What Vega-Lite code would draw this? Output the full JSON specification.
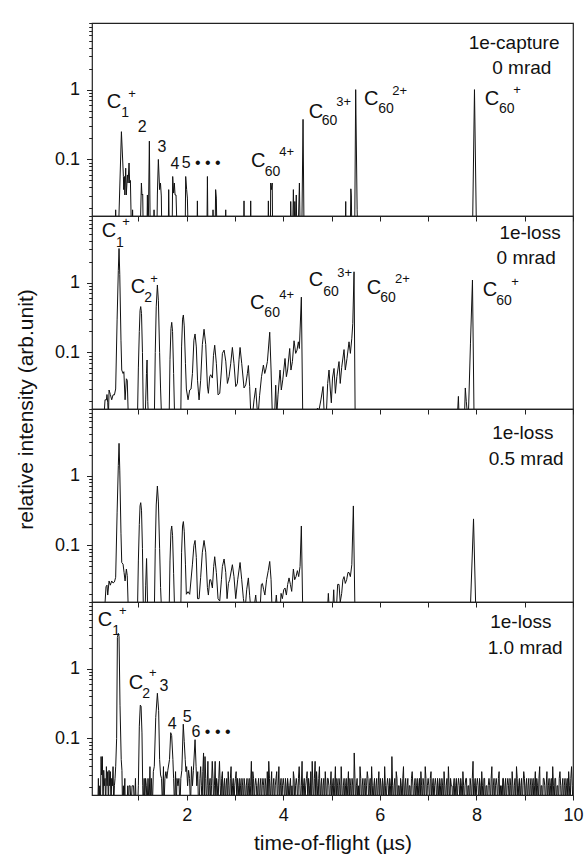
{
"$schema":"https://vega.github.io/schema/vega-lite/v6.json",
"padding":{"left":14,"top":13,"right":0,"bottom":0},
"bounds":"flush",
"spacing":0,
"config":{"font":"Liberation Sans","view":{"stroke":"#222","strokeWidth":1.2},
"axis":{"domain":false,"grid":false,"tickColor":"#222","tickWidth":1,"labelColor":"#111","labelFontSize":18,"labelFont":"Liberation Sans","titleFont":"Liberation Sans","titleFontSize":21,"titleFontWeight":"normal","titleColor":"#111"},
"text":{"font":"Liberation Sans","color":"#111"}},
"datasets":{
"s1":[{"x":0.3,"y":0.01},{"x":0.52,"y":0.01},{"x":0.53,"y":0.019},{"x":0.54,"y":0.01},{"x":0.59,"y":0.01},{"x":0.649,"y":0.25},{"x":0.69,"y":0.057},{"x":0.697,"y":0.037},{"x":0.71,"y":0.057},{"x":0.72,"y":0.031},{"x":0.738,"y":0.075},{"x":0.75,"y":0.031},{"x":0.773,"y":0.06},{"x":0.787,"y":0.046},{"x":0.807,"y":0.089},{"x":0.82,"y":0.046},{"x":0.835,"y":0.05},{"x":0.855,"y":0.01},{"x":0.876,"y":0.01},{"x":0.88,"y":0.019},{"x":0.89,"y":0.01},{"x":1.04,"y":0.01},{"x":1.063,"y":0.046},{"x":1.075,"y":0.031},{"x":1.09,"y":0.032},{"x":1.1,"y":0.01},{"x":1.178,"y":0.01},{"x":1.187,"y":0.031},{"x":1.195,"y":0.01},{"x":1.205,"y":0.01},{"x":1.228,"y":0.183},{"x":1.245,"y":0.01},{"x":1.32,"y":0.01},{"x":1.325,"y":0.019},{"x":1.33,"y":0.01},{"x":1.385,"y":0.01},{"x":1.394,"y":0.032},{"x":1.414,"y":0.1},{"x":1.44,"y":0.037},{"x":1.458,"y":0.046},{"x":1.475,"y":0.03},{"x":1.485,"y":0.01},{"x":1.62,"y":0.01},{"x":1.628,"y":0.037},{"x":1.64,"y":0.01},{"x":1.7,"y":0.01},{"x":1.711,"y":0.057},{"x":1.73,"y":0.033},{"x":1.745,"y":0.046},{"x":1.76,"y":0.031},{"x":1.78,"y":0.031},{"x":1.8,"y":0.01},{"x":1.97,"y":0.01},{"x":1.98,"y":0.057},{"x":2.0,"y":0.037},{"x":2.015,"y":0.028},{"x":2.03,"y":0.01},{"x":2.215,"y":0.01},{"x":2.222,"y":0.0255},{"x":2.23,"y":0.01},{"x":2.42,"y":0.01},{"x":2.43,"y":0.057},{"x":2.44,"y":0.01},{"x":2.54,"y":0.01},{"x":2.546,"y":0.019},{"x":2.552,"y":0.01},{"x":2.59,"y":0.01},{"x":2.6,"y":0.037},{"x":2.615,"y":0.028},{"x":2.625,"y":0.01},{"x":2.8,"y":0.01},{"x":2.809,"y":0.019},{"x":2.815,"y":0.01},{"x":3.18,"y":0.01},{"x":3.188,"y":0.0255},{"x":3.195,"y":0.01},{"x":3.32,"y":0.01},{"x":3.326,"y":0.0255},{"x":3.333,"y":0.01},{"x":3.685,"y":0.01},{"x":3.692,"y":0.0255},{"x":3.7,"y":0.01},{"x":3.735,"y":0.01},{"x":3.74,"y":0.046},{"x":3.755,"y":0.037},{"x":3.772,"y":0.046},{"x":3.78,"y":0.01},{"x":4.15,"y":0.01},{"x":4.155,"y":0.025},{"x":4.165,"y":0.01},{"x":4.195,"y":0.01},{"x":4.21,"y":0.037},{"x":4.225,"y":0.01},{"x":4.24,"y":0.025},{"x":4.255,"y":0.01},{"x":4.27,"y":0.031},{"x":4.28,"y":0.01},{"x":4.31,"y":0.01},{"x":4.335,"y":0.046},{"x":4.35,"y":0.01},{"x":4.385,"y":0.01},{"x":4.41,"y":0.375},{"x":4.43,"y":0.01},{"x":5.285,"y":0.01},{"x":5.294,"y":0.025},{"x":5.3,"y":0.01},{"x":5.39,"y":0.01},{"x":5.4,"y":0.038},{"x":5.41,"y":0.03},{"x":5.42,"y":0.01},{"x":5.48,"y":0.01},{"x":5.5,"y":1.0},{"x":5.53,"y":0.019},{"x":5.54,"y":0.01},{"x":7.92,"y":0.01},{"x":7.96,"y":1.0},{"x":8.0,"y":0.01},{"x":10,"y":0.01}],
"s2":[{"x":0.28,"y":0.01},{"x":0.31,"y":0.021},{"x":0.338,"y":0.0209},{"x":0.35,"y":0.025},{"x":0.366,"y":0.019},{"x":0.38,"y":0.012},{"x":0.393,"y":0.029},{"x":0.42,"y":0.025},{"x":0.448,"y":0.021},{"x":0.476,"y":0.0247},{"x":0.504,"y":0.0247},{"x":0.53,"y":0.03},{"x":0.56,"y":0.3},{"x":0.585,"y":1.5},{"x":0.6,"y":3.08},{"x":0.615,"y":1.3},{"x":0.64,"y":0.15},{"x":0.656,"y":0.056},{"x":0.683,"y":0.05},{"x":0.7,"y":0.053},{"x":0.725,"y":0.021},{"x":0.752,"y":0.042},{"x":0.77,"y":0.04},{"x":0.795,"y":0.01},{"x":0.98,"y":0.01},{"x":1.0,"y":0.06},{"x":1.02,"y":0.2},{"x":1.035,"y":0.4},{"x":1.049,"y":0.454},{"x":1.065,"y":0.36},{"x":1.085,"y":0.1},{"x":1.105,"y":0.01},{"x":1.14,"y":0.01},{"x":1.152,"y":0.0209},{"x":1.168,"y":0.05},{"x":1.18,"y":0.078},{"x":1.195,"y":0.02},{"x":1.21,"y":0.01},{"x":1.33,"y":0.01},{"x":1.35,"y":0.1},{"x":1.37,"y":0.45},{"x":1.394,"y":0.925},{"x":1.415,"y":0.55},{"x":1.44,"y":0.1},{"x":1.46,"y":0.03},{"x":1.484,"y":0.01},{"x":1.636,"y":0.01},{"x":1.655,"y":0.08},{"x":1.675,"y":0.22},{"x":1.691,"y":0.27},{"x":1.708,"y":0.2},{"x":1.73,"y":0.05},{"x":1.753,"y":0.01},{"x":1.877,"y":0.01},{"x":1.895,"y":0.12},{"x":1.915,"y":0.3},{"x":1.932,"y":0.344},{"x":1.95,"y":0.24},{"x":1.975,"y":0.07},{"x":1.994,"y":0.03},{"x":2.029,"y":0.021},{"x":2.063,"y":0.029},{"x":2.091,"y":0.03},{"x":2.12,"y":0.05},{"x":2.15,"y":0.15},{"x":2.174,"y":0.184},{"x":2.2,"y":0.12},{"x":2.225,"y":0.04},{"x":2.242,"y":0.028},{"x":2.257,"y":0.0209},{"x":2.29,"y":0.04},{"x":2.325,"y":0.13},{"x":2.36,"y":0.215},{"x":2.395,"y":0.13},{"x":2.43,"y":0.033},{"x":2.45,"y":0.026},{"x":2.478,"y":0.045},{"x":2.498,"y":0.048},{"x":2.533,"y":0.043},{"x":2.555,"y":0.09},{"x":2.581,"y":0.127},{"x":2.615,"y":0.07},{"x":2.65,"y":0.0247},{"x":2.685,"y":0.026},{"x":2.72,"y":0.056},{"x":2.74,"y":0.097},{"x":2.775,"y":0.108},{"x":2.81,"y":0.075},{"x":2.844,"y":0.036},{"x":2.878,"y":0.045},{"x":2.913,"y":0.07},{"x":2.947,"y":0.118},{"x":2.98,"y":0.07},{"x":3.016,"y":0.0325},{"x":3.05,"y":0.036},{"x":3.085,"y":0.08},{"x":3.106,"y":0.118},{"x":3.14,"y":0.07},{"x":3.188,"y":0.031},{"x":3.223,"y":0.0343},{"x":3.258,"y":0.05},{"x":3.278,"y":0.065},{"x":3.305,"y":0.0325},{"x":3.326,"y":0.014},{"x":3.365,"y":0.013},{"x":3.395,"y":0.0209},{"x":3.43,"y":0.031},{"x":3.458,"y":0.016},{"x":3.485,"y":0.014},{"x":3.51,"y":0.024},{"x":3.55,"y":0.045},{"x":3.589,"y":0.066},{"x":3.617,"y":0.05},{"x":3.637,"y":0.056},{"x":3.672,"y":0.074},{"x":3.72,"y":0.195},{"x":3.748,"y":0.056},{"x":3.775,"y":0.012},{"x":3.82,"y":0.012},{"x":3.844,"y":0.034},{"x":3.865,"y":0.012},{"x":3.892,"y":0.0247},{"x":3.934,"y":0.056},{"x":3.96,"y":0.029},{"x":3.99,"y":0.0405},{"x":4.037,"y":0.082},{"x":4.065,"y":0.045},{"x":4.09,"y":0.056},{"x":4.134,"y":0.114},{"x":4.16,"y":0.056},{"x":4.19,"y":0.074},{"x":4.224,"y":0.147},{"x":4.258,"y":0.097},{"x":4.285,"y":0.108},{"x":4.313,"y":0.142},{"x":4.334,"y":0.114},{"x":4.375,"y":0.62},{"x":4.405,"y":0.01},{"x":4.7,"y":0.01},{"x":4.707,"y":0.016},{"x":4.741,"y":0.015},{"x":4.78,"y":0.0209},{"x":4.824,"y":0.0325},{"x":4.85,"y":0.012},{"x":4.89,"y":0.012},{"x":4.92,"y":0.036},{"x":4.948,"y":0.056},{"x":4.975,"y":0.029},{"x":4.996,"y":0.019},{"x":5.02,"y":0.043},{"x":5.052,"y":0.059},{"x":5.08,"y":0.026},{"x":5.11,"y":0.045},{"x":5.155,"y":0.074},{"x":5.18,"y":0.036},{"x":5.21,"y":0.061},{"x":5.259,"y":0.11},{"x":5.285,"y":0.056},{"x":5.32,"y":0.082},{"x":5.362,"y":0.142},{"x":5.39,"y":0.097},{"x":5.42,"y":0.16},{"x":5.44,"y":0.26},{"x":5.466,"y":1.43},{"x":5.49,"y":0.01},{"x":7.6,"y":0.01},{"x":7.627,"y":0.0235},{"x":7.645,"y":0.01},{"x":7.75,"y":0.01},{"x":7.77,"y":0.031},{"x":7.79,"y":0.02},{"x":7.83,"y":0.01},{"x":7.877,"y":0.136},{"x":7.918,"y":1.09},{"x":7.952,"y":0.01},{"x":10,"y":0.01}],
"s3":[{"x":0.28,"y":0.01},{"x":0.31,"y":0.015},{"x":0.33,"y":0.0256},{"x":0.35,"y":0.027},{"x":0.366,"y":0.0195},{"x":0.393,"y":0.031},{"x":0.42,"y":0.027},{"x":0.448,"y":0.031},{"x":0.476,"y":0.029},{"x":0.504,"y":0.03},{"x":0.53,"y":0.035},{"x":0.56,"y":0.3},{"x":0.585,"y":1.4},{"x":0.6,"y":2.9},{"x":0.615,"y":1.2},{"x":0.64,"y":0.15},{"x":0.656,"y":0.057},{"x":0.683,"y":0.054},{"x":0.704,"y":0.041},{"x":0.725,"y":0.031},{"x":0.752,"y":0.046},{"x":0.77,"y":0.037},{"x":0.795,"y":0.01},{"x":0.98,"y":0.01},{"x":1.0,"y":0.06},{"x":1.02,"y":0.2},{"x":1.035,"y":0.37},{"x":1.049,"y":0.41},{"x":1.065,"y":0.32},{"x":1.085,"y":0.09},{"x":1.105,"y":0.01},{"x":1.14,"y":0.01},{"x":1.152,"y":0.027},{"x":1.17,"y":0.065},{"x":1.19,"y":0.015},{"x":1.21,"y":0.01},{"x":1.33,"y":0.01},{"x":1.35,"y":0.09},{"x":1.37,"y":0.38},{"x":1.394,"y":0.71},{"x":1.415,"y":0.42},{"x":1.44,"y":0.09},{"x":1.46,"y":0.025},{"x":1.484,"y":0.01},{"x":1.636,"y":0.01},{"x":1.655,"y":0.06},{"x":1.675,"y":0.16},{"x":1.691,"y":0.19},{"x":1.708,"y":0.14},{"x":1.73,"y":0.04},{"x":1.753,"y":0.01},{"x":1.877,"y":0.01},{"x":1.895,"y":0.08},{"x":1.915,"y":0.19},{"x":1.932,"y":0.22},{"x":1.95,"y":0.16},{"x":1.975,"y":0.054},{"x":1.994,"y":0.02},{"x":2.029,"y":0.0218},{"x":2.063,"y":0.02},{"x":2.12,"y":0.054},{"x":2.15,"y":0.1},{"x":2.174,"y":0.118},{"x":2.2,"y":0.067},{"x":2.225,"y":0.0173},{"x":2.257,"y":0.0173},{"x":2.29,"y":0.035},{"x":2.325,"y":0.08},{"x":2.36,"y":0.118},{"x":2.395,"y":0.08},{"x":2.43,"y":0.025},{"x":2.45,"y":0.0195},{"x":2.478,"y":0.0323},{"x":2.498,"y":0.0323},{"x":2.533,"y":0.0246},{"x":2.56,"y":0.05},{"x":2.581,"y":0.069},{"x":2.615,"y":0.041},{"x":2.65,"y":0.0173},{"x":2.685,"y":0.016},{"x":2.72,"y":0.0323},{"x":2.74,"y":0.05},{"x":2.775,"y":0.064},{"x":2.81,"y":0.041},{"x":2.837,"y":0.0173},{"x":2.865,"y":0.0286},{"x":2.89,"y":0.0323},{"x":2.947,"y":0.053},{"x":2.98,"y":0.0358},{"x":3.016,"y":0.0173},{"x":3.057,"y":0.0323},{"x":3.106,"y":0.057},{"x":3.14,"y":0.0323},{"x":3.175,"y":0.0173},{"x":3.21,"y":0.012},{"x":3.243,"y":0.0232},{"x":3.278,"y":0.0343},{"x":3.305,"y":0.019},{"x":3.33,"y":0.012},{"x":3.39,"y":0.012},{"x":3.43,"y":0.0195},{"x":3.455,"y":0.012},{"x":3.52,"y":0.012},{"x":3.547,"y":0.0277},{"x":3.568,"y":0.0286},{"x":3.595,"y":0.0232},{"x":3.62,"y":0.0195},{"x":3.655,"y":0.0323},{"x":3.69,"y":0.0436},{"x":3.72,"y":0.059},{"x":3.748,"y":0.0323},{"x":3.768,"y":0.012},{"x":3.83,"y":0.012},{"x":3.857,"y":0.0195},{"x":3.88,"y":0.012},{"x":3.934,"y":0.012},{"x":3.955,"y":0.0206},{"x":3.982,"y":0.0173},{"x":4.01,"y":0.0232},{"x":4.037,"y":0.0246},{"x":4.065,"y":0.0195},{"x":4.092,"y":0.0277},{"x":4.12,"y":0.0343},{"x":4.148,"y":0.0277},{"x":4.175,"y":0.022},{"x":4.21,"y":0.046},{"x":4.237,"y":0.0323},{"x":4.265,"y":0.0358},{"x":4.293,"y":0.0436},{"x":4.32,"y":0.0358},{"x":4.348,"y":0.05},{"x":4.375,"y":0.19},{"x":4.405,"y":0.01},{"x":4.91,"y":0.01},{"x":4.934,"y":0.0206},{"x":4.96,"y":0.01},{"x":5.02,"y":0.01},{"x":5.045,"y":0.0232},{"x":5.066,"y":0.01},{"x":5.1,"y":0.012},{"x":5.127,"y":0.0277},{"x":5.155,"y":0.0277},{"x":5.18,"y":0.0154},{"x":5.21,"y":0.0206},{"x":5.235,"y":0.0323},{"x":5.259,"y":0.0358},{"x":5.285,"y":0.0286},{"x":5.313,"y":0.0323},{"x":5.34,"y":0.041},{"x":5.362,"y":0.041},{"x":5.39,"y":0.0358},{"x":5.42,"y":0.053},{"x":5.452,"y":0.368},{"x":5.486,"y":0.01},{"x":7.87,"y":0.01},{"x":7.94,"y":0.24},{"x":7.99,"y":0.01},{"x":10,"y":0.01}],
"s4":[{"x":0.16,"y":0.01},{"x":0.172,"y":0.0268},{"x":0.185,"y":0.01},{"x":0.2,"y":0.021},{"x":0.214,"y":0.01},{"x":0.228,"y":0.055},{"x":0.24,"y":0.03},{"x":0.255,"y":0.055},{"x":0.268,"y":0.01},{"x":0.283,"y":0.035},{"x":0.296,"y":0.021},{"x":0.31,"y":0.0268},{"x":0.324,"y":0.01},{"x":0.338,"y":0.0395},{"x":0.352,"y":0.021},{"x":0.366,"y":0.0335},{"x":0.38,"y":0.01},{"x":0.393,"y":0.035},{"x":0.407,"y":0.021},{"x":0.42,"y":0.0335},{"x":0.434,"y":0.01},{"x":0.448,"y":0.0268},{"x":0.462,"y":0.021},{"x":0.476,"y":0.0395},{"x":0.49,"y":0.01},{"x":0.504,"y":0.021},{"x":0.517,"y":0.0268},{"x":0.531,"y":0.04},{"x":0.55,"y":0.1},{"x":0.566,"y":2.8},{"x":0.585,"y":3.2},{"x":0.6,"y":2.9},{"x":0.62,"y":0.3},{"x":0.645,"y":0.05},{"x":0.66,"y":0.035},{"x":0.672,"y":0.01},{"x":0.69,"y":0.021},{"x":0.7,"y":0.01},{"x":0.72,"y":0.0268},{"x":0.73,"y":0.01},{"x":0.766,"y":0.01},{"x":0.78,"y":0.021},{"x":0.795,"y":0.01},{"x":0.81,"y":0.021},{"x":0.83,"y":0.021},{"x":0.85,"y":0.01},{"x":0.87,"y":0.021},{"x":0.9,"y":0.021},{"x":0.92,"y":0.01},{"x":0.94,"y":0.0268},{"x":0.955,"y":0.01},{"x":0.985,"y":0.01},{"x":1.0,"y":0.021},{"x":1.02,"y":0.15},{"x":1.04,"y":0.3},{"x":1.056,"y":0.29},{"x":1.075,"y":0.12},{"x":1.09,"y":0.021},{"x":1.1,"y":0.01},{"x":1.12,"y":0.0268},{"x":1.13,"y":0.01},{"x":1.15,"y":0.0268},{"x":1.165,"y":0.021},{"x":1.18,"y":0.01},{"x":1.2,"y":0.0268},{"x":1.22,"y":0.01},{"x":1.24,"y":0.0395},{"x":1.255,"y":0.01},{"x":1.27,"y":0.0268},{"x":1.29,"y":0.01},{"x":1.31,"y":0.0335},{"x":1.33,"y":0.04},{"x":1.36,"y":0.2},{"x":1.394,"y":0.444},{"x":1.42,"y":0.25},{"x":1.44,"y":0.05},{"x":1.46,"y":0.03},{"x":1.48,"y":0.0268},{"x":1.5,"y":0.01},{"x":1.52,"y":0.0395},{"x":1.53,"y":0.01},{"x":1.55,"y":0.0268},{"x":1.57,"y":0.0335},{"x":1.59,"y":0.0268},{"x":1.61,"y":0.035},{"x":1.645,"y":0.05},{"x":1.67,"y":0.121},{"x":1.69,"y":0.11},{"x":1.715,"y":0.05},{"x":1.73,"y":0.0268},{"x":1.75,"y":0.01},{"x":1.77,"y":0.0335},{"x":1.785,"y":0.01},{"x":1.8,"y":0.0268},{"x":1.82,"y":0.021},{"x":1.84,"y":0.0268},{"x":1.86,"y":0.01},{"x":1.88,"y":0.0268},{"x":1.9,"y":0.035},{"x":1.93,"y":0.16},{"x":1.95,"y":0.09},{"x":1.97,"y":0.05},{"x":1.985,"y":0.0335},{"x":2.0,"y":0.0395},{"x":2.02,"y":0.021},{"x":2.04,"y":0.035},{"x":2.06,"y":0.0268},{"x":2.08,"y":0.01},{"x":2.1,"y":0.0395},{"x":2.12,"y":0.021},{"x":2.14,"y":0.035},{"x":2.174,"y":0.096},{"x":2.195,"y":0.04},{"x":2.21,"y":0.021},{"x":2.23,"y":0.0335},{"x":2.245,"y":0.01},
{"x":2.26,"y":0.01},{"x":2.275,"y":0.0268},{"x":2.29,"y":0.0395},{"x":2.305,"y":0.021},{"x":2.32,"y":0.01},{"x":2.335,"y":0.0335},{"x":2.35,"y":0.062},{"x":2.365,"y":0.01},{"x":2.38,"y":0.055},{"x":2.395,"y":0.0268},{"x":2.41,"y":0.01},{"x":2.425,"y":0.021},{"x":2.44,"y":0.047},{"x":2.455,"y":0.01},{"x":2.47,"y":0.021},{"x":2.485,"y":0.0268},{"x":2.5,"y":0.01},{"x":2.515,"y":0.021},{"x":2.53,"y":0.047},{"x":2.545,"y":0.0268},{"x":2.56,"y":0.01},{"x":2.575,"y":0.021},{"x":2.59,"y":0.047},{"x":2.605,"y":0.01},{"x":2.62,"y":0.0268},{"x":2.635,"y":0.021},{"x":2.65,"y":0.01},{"x":2.665,"y":0.0268},{"x":2.68,"y":0.047},{"x":2.695,"y":0.021},{"x":2.71,"y":0.01},{"x":2.725,"y":0.0268},{"x":2.74,"y":0.0335},{"x":2.755,"y":0.01},{"x":2.77,"y":0.021},{"x":2.785,"y":0.0268},{"x":2.8,"y":0.01},{"x":2.815,"y":0.021},{"x":2.83,"y":0.0268},{"x":2.845,"y":0.01},{"x":2.86,"y":0.0335},{"x":2.875,"y":0.021},{"x":2.89,"y":0.01},{"x":2.905,"y":0.0268},{"x":2.92,"y":0.0395},{"x":2.935,"y":0.01},{"x":2.95,"y":0.021},{"x":2.965,"y":0.0268},{"x":2.98,"y":0.01},{"x":2.995,"y":0.021},{"x":3.01,"y":0.0268},{"x":3.025,"y":0.0335},{"x":3.04,"y":0.01},{"x":3.055,"y":0.0268},{"x":3.07,"y":0.021},{"x":3.085,"y":0.01},{"x":3.1,"y":0.0268},{"x":3.115,"y":0.021},{"x":3.13,"y":0.01},{"x":3.145,"y":0.0268},{"x":3.16,"y":0.021},{"x":3.175,"y":0.01},{"x":3.19,"y":0.0268},{"x":3.205,"y":0.021},{"x":3.22,"y":0.01},{"x":3.235,"y":0.021},{"x":3.25,"y":0.0268},{"x":3.265,"y":0.01},{"x":3.28,"y":0.021},{"x":3.295,"y":0.0268},{"x":3.31,"y":0.01},{"x":3.325,"y":0.021},{"x":3.34,"y":0.047},{"x":3.355,"y":0.01},{"x":3.37,"y":0.0335},{"x":3.385,"y":0.0268},{"x":3.4,"y":0.01},{"x":3.415,"y":0.021},{"x":3.43,"y":0.0268},{"x":3.445,"y":0.021},{"x":3.46,"y":0.01},{"x":3.475,"y":0.021},{"x":3.49,"y":0.0268},{"x":3.505,"y":0.01},{"x":3.52,"y":0.021},{"x":3.535,"y":0.0268},{"x":3.55,"y":0.01},{"x":3.565,"y":0.021},{"x":3.58,"y":0.0268},{"x":3.595,"y":0.021},{"x":3.61,"y":0.01},{"x":3.625,"y":0.0268},{"x":3.64,"y":0.021},{"x":3.655,"y":0.01},{"x":3.67,"y":0.0335},{"x":3.685,"y":0.01},{"x":3.7,"y":0.047},{"x":3.715,"y":0.0268},{"x":3.73,"y":0.01},{"x":3.745,"y":0.021},{"x":3.76,"y":0.0335},{"x":3.775,"y":0.01},{"x":3.79,"y":0.021},{"x":3.805,"y":0.0268},{"x":3.82,"y":0.01},{"x":3.835,"y":0.021},{"x":3.85,"y":0.0268},{"x":3.865,"y":0.0335},{"x":3.88,"y":0.01},{"x":3.895,"y":0.021},{"x":3.91,"y":0.0395},{"x":3.925,"y":0.01},{"x":3.94,"y":0.021},{"x":3.955,"y":0.0268},{"x":3.97,"y":0.01},{"x":3.985,"y":0.021},{"x":4.0,"y":0.0268},{"x":4.015,"y":0.021},{"x":4.03,"y":0.01},{"x":4.045,"y":0.0268},{"x":4.06,"y":0.021},{"x":4.075,"y":0.01},{"x":4.09,"y":0.0268},{"x":4.105,"y":0.021},{"x":4.12,"y":0.01},{"x":4.135,"y":0.021},{"x":4.15,"y":0.0268},{"x":4.165,"y":0.01},{"x":4.18,"y":0.021},{"x":4.195,"y":0.01},{"x":4.21,"y":0.0335},{"x":4.225,"y":0.0268},{"x":4.24,"y":0.01},{"x":4.255,"y":0.021},{"x":4.27,"y":0.0268},{"x":4.285,"y":0.021},{"x":4.3,"y":0.01},{"x":4.315,"y":0.0268},{"x":4.33,"y":0.0395},{"x":4.345,"y":0.021},{"x":4.36,"y":0.01},{"x":4.375,"y":0.021},{"x":4.39,"y":0.047},{"x":4.405,"y":0.01},{"x":4.42,"y":0.021},{"x":4.435,"y":0.0268},{"x":4.45,"y":0.01},{"x":4.465,"y":0.021},{"x":4.48,"y":0.0268},{"x":4.495,"y":0.0335},{"x":4.51,"y":0.01},{"x":4.525,"y":0.0268},{"x":4.54,"y":0.021},{"x":4.555,"y":0.01},{"x":4.57,"y":0.0335},{"x":4.585,"y":0.01},{"x":4.6,"y":0.047},{"x":4.615,"y":0.021},{"x":4.63,"y":0.01},{"x":4.645,"y":0.0268},{"x":4.66,"y":0.047},{"x":4.675,"y":0.01},{"x":4.69,"y":0.0335},{"x":4.705,"y":0.021},{"x":4.72,"y":0.01},{"x":4.735,"y":0.0268},{"x":4.75,"y":0.0395},{"x":4.765,"y":0.01},{"x":4.78,"y":0.021},{"x":4.795,"y":0.0268},{"x":4.81,"y":0.01},{"x":4.825,"y":0.021},{"x":4.84,"y":0.0268},{"x":4.855,"y":0.01},{"x":4.87,"y":0.0335},{"x":4.885,"y":0.021},{"x":4.9,"y":0.01},{"x":4.915,"y":0.0268},{"x":4.93,"y":0.0268},{"x":4.945,"y":0.021},{"x":4.96,"y":0.01},{"x":4.975,"y":0.021},{"x":4.99,"y":0.0335},{"x":5.005,"y":0.01},{"x":5.02,"y":0.021},{"x":5.035,"y":0.0268},{"x":5.05,"y":0.01},{"x":5.065,"y":0.021},{"x":5.08,"y":0.0395},{"x":5.095,"y":0.01},{"x":5.11,"y":0.0268},{"x":5.125,"y":0.021},{"x":5.14,"y":0.01},{"x":5.155,"y":0.0268},{"x":5.17,"y":0.021},{"x":5.185,"y":0.01},{"x":5.2,"y":0.0395},{"x":5.215,"y":0.021},{"x":5.23,"y":0.01},{"x":5.245,"y":0.021},{"x":5.26,"y":0.0268},{"x":5.275,"y":0.01},{"x":5.29,"y":0.021},{"x":5.305,"y":0.0268},{"x":5.32,"y":0.01},{"x":5.335,"y":0.021},{"x":5.35,"y":0.0335},{"x":5.365,"y":0.01},{"x":5.38,"y":0.0268},{"x":5.395,"y":0.021},{"x":5.41,"y":0.01},{"x":5.425,"y":0.0268},{"x":5.44,"y":0.021},{"x":5.455,"y":0.01},{"x":5.47,"y":0.062},{"x":5.485,"y":0.0268},{"x":5.5,"y":0.01},{"x":5.515,"y":0.021},{"x":5.53,"y":0.0268},{"x":5.545,"y":0.01},{"x":5.56,"y":0.021},{"x":5.575,"y":0.01},{"x":5.59,"y":0.0395},{"x":5.605,"y":0.0268},{"x":5.62,"y":0.01},{"x":5.635,"y":0.021},{"x":5.65,"y":0.0268},{"x":5.665,"y":0.01},{"x":5.68,"y":0.021},{"x":5.695,"y":0.0268},{"x":5.71,"y":0.01},{"x":5.725,"y":0.021},{"x":5.74,"y":0.0335},{"x":5.755,"y":0.0268},{"x":5.77,"y":0.01},{"x":5.785,"y":0.021},{"x":5.8,"y":0.0268},{"x":5.815,"y":0.01},{"x":5.83,"y":0.0395},{"x":5.845,"y":0.021},{"x":5.86,"y":0.01},{"x":5.875,"y":0.021},{"x":5.89,"y":0.0268},{"x":5.905,"y":0.01},{"x":5.92,"y":0.021},{"x":5.935,"y":0.0268},{"x":5.95,"y":0.01},{"x":5.965,"y":0.021},{"x":5.98,"y":0.0335},{"x":5.995,"y":0.01},{"x":6.01,"y":0.0268},{"x":6.025,"y":0.021},{"x":6.04,"y":0.01},{"x":6.055,"y":0.0268},{"x":6.07,"y":0.021},{"x":6.085,"y":0.01},{"x":6.1,"y":0.0395},{"x":6.115,"y":0.021},{"x":6.13,"y":0.01},{"x":6.145,"y":0.021},{"x":6.16,"y":0.0268},{"x":6.175,"y":0.021},{"x":6.19,"y":0.01},{"x":6.205,"y":0.0268},{"x":6.22,"y":0.021},{"x":6.235,"y":0.01},{"x":6.25,"y":0.055},{"x":6.265,"y":0.021},{"x":6.28,"y":0.01},{"x":6.295,"y":0.021},{"x":6.31,"y":0.0268},{"x":6.325,"y":0.01},{"x":6.34,"y":0.0335},{"x":6.355,"y":0.0268},{"x":6.37,"y":0.01},{"x":6.385,"y":0.021},{"x":6.4,"y":0.021},{"x":6.415,"y":0.01},{"x":6.43,"y":0.0268},{"x":6.445,"y":0.021},{"x":6.46,"y":0.01},{"x":6.475,"y":0.0268},{"x":6.49,"y":0.0395},{"x":6.505,"y":0.01},{"x":6.52,"y":0.021},{"x":6.535,"y":0.0268},{"x":6.55,"y":0.01},{"x":6.565,"y":0.021},{"x":6.58,"y":0.0268},{"x":6.595,"y":0.01},{"x":6.61,"y":0.021},{"x":6.625,"y":0.021},{"x":6.64,"y":0.01},{"x":6.655,"y":0.0268},{"x":6.67,"y":0.0335},{"x":6.685,"y":0.021},{"x":6.7,"y":0.01},{"x":6.715,"y":0.021},{"x":6.73,"y":0.0268},{"x":6.745,"y":0.01},{"x":6.76,"y":0.021},{"x":6.775,"y":0.0268},{"x":6.79,"y":0.01},{"x":6.805,"y":0.021},{"x":6.82,"y":0.0268},{"x":6.835,"y":0.01},{"x":6.85,"y":0.0335},{"x":6.865,"y":0.021},{"x":6.88,"y":0.01},{"x":6.895,"y":0.0268},{"x":6.91,"y":0.021},{"x":6.925,"y":0.01},{"x":6.94,"y":0.0395},{"x":6.955,"y":0.0268},{"x":6.97,"y":0.01},{"x":6.985,"y":0.021},{"x":7.0,"y":0.0268},{"x":7.015,"y":0.021},{"x":7.03,"y":0.01},{"x":7.045,"y":0.0268},{"x":7.06,"y":0.0335},{"x":7.075,"y":0.01},{"x":7.09,"y":0.021},{"x":7.105,"y":0.0268},{"x":7.12,"y":0.01},{"x":7.135,"y":0.021},{"x":7.15,"y":0.0268},{"x":7.165,"y":0.021},{"x":7.18,"y":0.01},{"x":7.195,"y":0.0268},{"x":7.21,"y":0.021},{"x":7.225,"y":0.01},{"x":7.24,"y":0.0268},{"x":7.255,"y":0.021},{"x":7.27,"y":0.01},{"x":7.285,"y":0.0268},{"x":7.3,"y":0.021},{"x":7.315,"y":0.01},{"x":7.33,"y":0.0335},{"x":7.345,"y":0.021},{"x":7.36,"y":0.01},{"x":7.375,"y":0.021},{"x":7.39,"y":0.0268},{"x":7.405,"y":0.01},{"x":7.42,"y":0.0395},{"x":7.435,"y":0.021},{"x":7.45,"y":0.01},{"x":7.465,"y":0.0268},{"x":7.48,"y":0.021},{"x":7.495,"y":0.021},{"x":7.51,"y":0.01},{"x":7.525,"y":0.021},{"x":7.54,"y":0.0268},{"x":7.555,"y":0.01},{"x":7.57,"y":0.021},{"x":7.585,"y":0.0268},{"x":7.6,"y":0.01},{"x":7.615,"y":0.021},{"x":7.63,"y":0.0268},{"x":7.645,"y":0.021},{"x":7.66,"y":0.01},{"x":7.675,"y":0.0268},{"x":7.69,"y":0.021},{"x":7.705,"y":0.01},{"x":7.72,"y":0.0335},{"x":7.735,"y":0.021},{"x":7.75,"y":0.01},{"x":7.765,"y":0.021},{"x":7.78,"y":0.0268},{"x":7.795,"y":0.0268},{"x":7.81,"y":0.01},{"x":7.825,"y":0.021},{"x":7.84,"y":0.021},{"x":7.855,"y":0.01},{"x":7.87,"y":0.0268},{"x":7.885,"y":0.021},{"x":7.9,"y":0.01},{"x":7.915,"y":0.0268},{"x":7.93,"y":0.047},{"x":7.945,"y":0.01},{"x":7.96,"y":0.021},{"x":7.975,"y":0.0268},{"x":7.99,"y":0.01},{"x":8.005,"y":0.021},{"x":8.02,"y":0.0268},{"x":8.035,"y":0.021},{"x":8.05,"y":0.01},{"x":8.065,"y":0.0268},{"x":8.08,"y":0.021},{"x":8.095,"y":0.01},{"x":8.11,"y":0.0335},{"x":8.125,"y":0.021},{"x":8.14,"y":0.01},{"x":8.155,"y":0.0268},{"x":8.17,"y":0.0268},{"x":8.185,"y":0.01},{"x":8.2,"y":0.021},{"x":8.215,"y":0.021},{"x":8.23,"y":0.01},{"x":8.245,"y":0.021},{"x":8.26,"y":0.0268},{"x":8.275,"y":0.021},{"x":8.29,"y":0.01},{"x":8.305,"y":0.0268},{"x":8.32,"y":0.0395},{"x":8.335,"y":0.01},{"x":8.35,"y":0.021},{"x":8.365,"y":0.0268},{"x":8.38,"y":0.01},{"x":8.395,"y":0.021},{"x":8.41,"y":0.0268},{"x":8.425,"y":0.021},{"x":8.44,"y":0.01},{"x":8.455,"y":0.0268},{"x":8.47,"y":0.0335},{"x":8.485,"y":0.01},{"x":8.5,"y":0.021},{"x":8.515,"y":0.021},{"x":8.53,"y":0.01},{"x":8.545,"y":0.0268},{"x":8.56,"y":0.0268},{"x":8.575,"y":0.01},{"x":8.59,"y":0.021},{"x":8.605,"y":0.0268},{"x":8.62,"y":0.01},{"x":8.635,"y":0.021},{"x":8.65,"y":0.0268},{"x":8.665,"y":0.021},{"x":8.68,"y":0.01},{"x":8.695,"y":0.0268},{"x":8.71,"y":0.021},{"x":8.725,"y":0.01},{"x":8.74,"y":0.0335},{"x":8.755,"y":0.021},{"x":8.77,"y":0.01},{"x":8.785,"y":0.021},{"x":8.8,"y":0.0268},{"x":8.815,"y":0.01},{"x":8.83,"y":0.0395},{"x":8.845,"y":0.0268},{"x":8.86,"y":0.01},{"x":8.875,"y":0.021},{"x":8.89,"y":0.0268},{"x":8.905,"y":0.01},{"x":8.92,"y":0.021},{"x":8.935,"y":0.0268},{"x":8.95,"y":0.01},{"x":8.965,"y":0.021},{"x":8.98,"y":0.0335},{"x":8.995,"y":0.0268},{"x":9.01,"y":0.01},{"x":9.025,"y":0.021},{"x":9.04,"y":0.0268},{"x":9.055,"y":0.01},{"x":9.07,"y":0.021},{"x":9.085,"y":0.0268},{"x":9.1,"y":0.01},{"x":9.115,"y":0.021},{"x":9.13,"y":0.0268},{"x":9.145,"y":0.01},{"x":9.16,"y":0.021},{"x":9.175,"y":0.0268},{"x":9.19,"y":0.01},{"x":9.205,"y":0.021},{"x":9.22,"y":0.0335},{"x":9.235,"y":0.01},{"x":9.25,"y":0.0268},{"x":9.265,"y":0.021},{"x":9.28,"y":0.01},{"x":9.295,"y":0.0268},{"x":9.31,"y":0.0395},{"x":9.325,"y":0.01},{"x":9.34,"y":0.021},{"x":9.355,"y":0.021},{"x":9.37,"y":0.01},{"x":9.385,"y":0.0268},{"x":9.4,"y":0.0268},{"x":9.415,"y":0.021},{"x":9.43,"y":0.01},{"x":9.445,"y":0.021},{"x":9.46,"y":0.0335},{"x":9.475,"y":0.01},{"x":9.49,"y":0.021},{"x":9.505,"y":0.0268},{"x":9.52,"y":0.01},{"x":9.535,"y":0.021},{"x":9.55,"y":0.0268},{"x":9.565,"y":0.01},{"x":9.58,"y":0.0395},{"x":9.595,"y":0.021},{"x":9.61,"y":0.01},{"x":9.625,"y":0.0268},{"x":9.64,"y":0.0268},{"x":9.655,"y":0.01},{"x":9.67,"y":0.021},{"x":9.685,"y":0.021},{"x":9.7,"y":0.01},{"x":9.715,"y":0.0268},{"x":9.73,"y":0.0335},{"x":9.745,"y":0.021},{"x":9.76,"y":0.01},{"x":9.775,"y":0.021},{"x":9.79,"y":0.0268},{"x":9.805,"y":0.01},{"x":9.82,"y":0.021},{"x":9.835,"y":0.0268},{"x":9.85,"y":0.01},{"x":9.865,"y":0.021},{"x":9.88,"y":0.0268},{"x":9.895,"y":0.01},{"x":9.91,"y":0.0335},{"x":9.925,"y":0.021},{"x":9.94,"y":0.01},{"x":9.955,"y":0.0268},{"x":9.97,"y":0.0395},{"x":9.985,"y":0.021},{"x":10,"y":0.01}],
"lab":[
{"p":1,"k":"big","x":0.497,"y":0.655,"t":"C"},{"p":1,"k":"sub","x":0.725,"y":0.463,"t":"1"},{"p":1,"k":"sup","x":0.87,"y":0.87,"t":"+"},
{"p":1,"k":"num","x":1.077,"y":0.29,"t":"2"},{"p":1,"k":"num","x":1.49,"y":0.152,"t":"3"},{"p":1,"k":"num","x":1.76,"y":0.086,"t":"4"},{"p":1,"k":"num","x":2.3,"y":0.09,"t":"5 • • •"},
{"p":1,"k":"big","x":3.48,"y":0.094,"t":"C"},{"p":1,"k":"sub","x":3.78,"y":0.066,"t":"60"},{"p":1,"k":"sup","x":4.07,"y":0.128,"t":"4+"},
{"p":1,"k":"big","x":4.68,"y":0.48,"t":"C"},{"p":1,"k":"sub","x":4.96,"y":0.36,"t":"60"},{"p":1,"k":"sup","x":5.25,"y":0.66,"t":"3+"},
{"p":1,"k":"big","x":5.82,"y":0.74,"t":"C"},{"p":1,"k":"sub","x":6.13,"y":0.53,"t":"60"},{"p":1,"k":"sup","x":6.41,"y":0.95,"t":"2+"},
{"p":1,"k":"big","x":8.32,"y":0.74,"t":"C"},{"p":1,"k":"sub","x":8.63,"y":0.53,"t":"60"},{"p":1,"k":"sup","x":8.84,"y":0.99,"t":"+"},
{"p":1,"k":"cond","x":8.78,"y":4.65,"t":"1e-capture"},{"p":1,"k":"cond","x":8.94,"y":2.04,"t":"0 mrad"},
{"p":2,"k":"big","x":0.393,"y":5.48,"t":"C"},{"p":2,"k":"sub","x":0.62,"y":3.7,"t":"1"},{"p":2,"k":"sup","x":0.745,"y":7.4,"t":"+"},
{"p":2,"k":"big","x":0.99,"y":0.87,"t":"C"},{"p":2,"k":"sub","x":1.2,"y":0.6,"t":"2"},{"p":2,"k":"sup","x":1.325,"y":1.12,"t":"+"},
{"p":2,"k":"big","x":3.46,"y":0.51,"t":"C"},{"p":2,"k":"sub","x":3.77,"y":0.37,"t":"60"},{"p":2,"k":"sup","x":4.07,"y":0.66,"t":"4+"},
{"p":2,"k":"big","x":4.68,"y":1.09,"t":"C"},{"p":2,"k":"sub","x":4.99,"y":0.74,"t":"60"},{"p":2,"k":"sup","x":5.27,"y":1.37,"t":"3+"},
{"p":2,"k":"big","x":5.88,"y":0.84,"t":"C"},{"p":2,"k":"sub","x":6.17,"y":0.6,"t":"60"},{"p":2,"k":"sup","x":6.47,"y":1.12,"t":"2+"},
{"p":2,"k":"big","x":8.28,"y":0.78,"t":"C"},{"p":2,"k":"sub","x":8.57,"y":0.55,"t":"60"},{"p":2,"k":"sup","x":8.8,"y":1.02,"t":"+"},
{"p":2,"k":"cond","x":9.11,"y":5.06,"t":"1e-loss"},{"p":2,"k":"cond","x":9.03,"y":2.25,"t":"0 mrad"},
{"p":3,"k":"cond","x":8.96,"y":4.1,"t":"1e-loss"},{"p":3,"k":"cond","x":9.03,"y":1.73,"t":"0.5 mrad"},
{"p":4,"k":"big","x":0.31,"y":4.95,"t":"C"},{"p":4,"k":"sub","x":0.54,"y":3.46,"t":"1"},{"p":4,"k":"sup","x":0.68,"y":6.7,"t":"+"},
{"p":4,"k":"big","x":0.95,"y":0.62,"t":"C"},{"p":4,"k":"sub","x":1.16,"y":0.43,"t":"2"},{"p":4,"k":"sup","x":1.3,"y":0.87,"t":"+"},{"p":4,"k":"num","x":1.53,"y":0.56,"t":"3"},
{"p":4,"k":"num","x":1.7,"y":0.16,"t":"4"},{"p":4,"k":"num","x":2.01,"y":0.2,"t":"5"},{"p":4,"k":"num","x":2.505,"y":0.124,"t":"6 • • •"},
{"p":4,"k":"cond","x":8.92,"y":4.65,"t":"1e-loss"},{"p":4,"k":"cond","x":9.01,"y":1.97,"t":"1.0 mrad"}
]},
"vconcat":[
{"width":481,"height":193,"layer":[
{"data":{"name":"s1"},"mark":{"type":"line","clip":true,"color":"#111","strokeWidth":1},
"encoding":{"x":{"field":"x","type":"quantitative","scale":{"domain":[0.04,10],"nice":false,"zero":false},"axis":{"values":[1,2,3,4,5,6,7,8,9,10],"labels":false,"tickSize":5,"title":null}},
"y":{"field":"y","type":"quantitative","scale":{"type":"log","domain":[0.0155,9],"nice":false},"axis":{"values":[0.02,0.03,0.04,0.05,0.06,0.07,0.08,0.09,0.1,0.2,0.3,0.4,0.5,0.6,0.7,0.8,0.9,1,2,3,4,5,6,7,8,9],"labelExpr":"datum.value == 1 ? '1' : (datum.value == 0.1 ? '0.1' : '')","labelOverlap":false,"tickSize":{"condition":{"test":"datum.value == 1 || datum.value == 0.1","value":5.5},"value":3.3},"labelPadding":7,"title":null}}}},
{"data":{"name":"lab"},"transform":[{"filter":"datum.p == 1"}],"mark":{"type":"text","align":"center","baseline":"middle"},
"encoding":{"x":{"field":"x","type":"quantitative"},"y":{"field":"y","type":"quantitative"},"text":{"field":"t"},"size":{"condition":[{"test":"datum.k == 'big'","value":20},{"test":"datum.k == 'sub'","value":14},{"test":"datum.k == 'sup'","value":13},{"test":"datum.k == 'num'","value":16}],"value":19}}}
]},
{"width":481,"height":193,"layer":[
{"data":{"name":"s2"},"mark":{"type":"line","clip":true,"color":"#111","strokeWidth":1},
"encoding":{"x":{"field":"x","type":"quantitative","scale":{"domain":[0.04,10],"nice":false,"zero":false},"axis":{"values":[1,2,3,4,5,6,7,8,9,10],"labels":false,"tickSize":5,"title":null}},
"y":{"field":"y","type":"quantitative","scale":{"type":"log","domain":[0.0155,9],"nice":false},"axis":{"values":[0.02,0.03,0.04,0.05,0.06,0.07,0.08,0.09,0.1,0.2,0.3,0.4,0.5,0.6,0.7,0.8,0.9,1,2,3,4,5,6,7,8,9],"labelExpr":"datum.value == 1 ? '1' : (datum.value == 0.1 ? '0.1' : '')","labelOverlap":false,"tickSize":{"condition":{"test":"datum.value == 1 || datum.value == 0.1","value":5.5},"value":3.3},"labelPadding":7,"title":"relative intensity (arb.unit)","titleY":193,"titlePadding":18}}}},
{"data":{"name":"lab"},"transform":[{"filter":"datum.p == 2"}],"mark":{"type":"text","align":"center","baseline":"middle"},
"encoding":{"x":{"field":"x","type":"quantitative"},"y":{"field":"y","type":"quantitative"},"text":{"field":"t"},"size":{"condition":[{"test":"datum.k == 'big'","value":20},{"test":"datum.k == 'sub'","value":14},{"test":"datum.k == 'sup'","value":13},{"test":"datum.k == 'num'","value":16}],"value":19}}}
]},
{"width":481,"height":193,"layer":[
{"data":{"name":"s3"},"mark":{"type":"line","clip":true,"color":"#111","strokeWidth":1},
"encoding":{"x":{"field":"x","type":"quantitative","scale":{"domain":[0.04,10],"nice":false,"zero":false},"axis":{"values":[1,2,3,4,5,6,7,8,9,10],"labels":false,"tickSize":5,"title":null}},
"y":{"field":"y","type":"quantitative","scale":{"type":"log","domain":[0.0155,9],"nice":false},"axis":{"values":[0.02,0.03,0.04,0.05,0.06,0.07,0.08,0.09,0.1,0.2,0.3,0.4,0.5,0.6,0.7,0.8,0.9,1,2,3,4,5,6,7,8,9],"labelExpr":"datum.value == 1 ? '1' : (datum.value == 0.1 ? '0.1' : '')","labelOverlap":false,"tickSize":{"condition":{"test":"datum.value == 1 || datum.value == 0.1","value":5.5},"value":3.3},"labelPadding":7,"title":null}}}},
{"data":{"name":"lab"},"transform":[{"filter":"datum.p == 3"}],"mark":{"type":"text","align":"center","baseline":"middle"},
"encoding":{"x":{"field":"x","type":"quantitative"},"y":{"field":"y","type":"quantitative"},"text":{"field":"t"},"size":{"condition":[{"test":"datum.k == 'big'","value":20},{"test":"datum.k == 'sub'","value":14},{"test":"datum.k == 'sup'","value":13},{"test":"datum.k == 'num'","value":16}],"value":19}}}
]},
{"width":481,"height":193,"layer":[
{"data":{"name":"s4"},"mark":{"type":"line","clip":true,"color":"#111","strokeWidth":1},
"encoding":{"x":{"field":"x","type":"quantitative","scale":{"domain":[0.04,10],"nice":false,"zero":false},"axis":{"values":[1,2,3,4,5,6,7,8,9,10],"labelExpr":"datum.value % 2 == 0 ? datum.label : ''","labelOverlap":false,"labelFlush":false,"labelPadding":6,"tickSize":5,"title":"time-of-flight (µs)","titlePadding":8}},
"y":{"field":"y","type":"quantitative","scale":{"type":"log","domain":[0.0155,9],"nice":false},"axis":{"values":[0.02,0.03,0.04,0.05,0.06,0.07,0.08,0.09,0.1,0.2,0.3,0.4,0.5,0.6,0.7,0.8,0.9,1,2,3,4,5,6,7,8,9],"labelExpr":"datum.value == 1 ? '1' : (datum.value == 0.1 ? '0.1' : '')","labelOverlap":false,"tickSize":{"condition":{"test":"datum.value == 1 || datum.value == 0.1","value":5.5},"value":3.3},"labelPadding":7,"title":null}}}},
{"data":{"name":"lab"},"transform":[{"filter":"datum.p == 4"}],"mark":{"type":"text","align":"center","baseline":"middle"},
"encoding":{"x":{"field":"x","type":"quantitative"},"y":{"field":"y","type":"quantitative"},"text":{"field":"t"},"size":{"condition":[{"test":"datum.k == 'big'","value":20},{"test":"datum.k == 'sub'","value":14},{"test":"datum.k == 'sup'","value":13},{"test":"datum.k == 'num'","value":16}],"value":19}}}
]}
]
}
